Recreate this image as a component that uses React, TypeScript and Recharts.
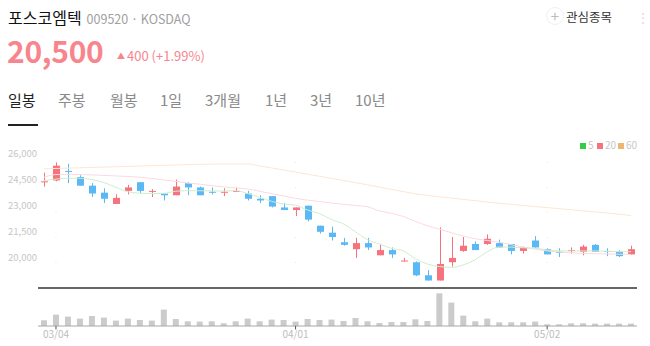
import React from 'react';
import { ComposedChart, BarChart, Bar, Line, XAxis, YAxis, ReferenceLine } from 'recharts';

const dates = [
  '02/29', '03/04', '03/05', '03/06', '03/07', '03/08', '03/11', '03/12', '03/13', '03/14',
  '03/15', '03/18', '03/19', '03/20', '03/21', '03/22', '03/25', '03/26', '03/27', '03/28',
  '03/29', '04/01', '04/02', '04/03', '04/04', '04/05', '04/08', '04/09', '04/11', '04/12',
  '04/15', '04/16', '04/17', '04/18', '04/19', '04/22', '04/23', '04/24', '04/25', '04/26',
  '04/29', '04/30', '05/02', '05/03', '05/07', '05/08', '05/09', '05/10', '05/13', '05/14',
];

const opens = [
  24350, 24450, 25000, 24650, 24150, 23750, 23100, 23850, 24350, 23800,
  23700, 23600, 24300, 24050, 23800, 23750, 23800, 23700, 23400, 23550,
  22900, 22750, 23000, 21850, 21450, 20900, 20500, 20850, 20150, 20450,
  19800, 19750, 19000, 18700, 19750, 20400, 20800, 20800, 20850, 20800,
  20400, 21000, 20500, 20350, 20400, 20350, 20750, 20400, 20350, 20200,
];
const highs = [
  24900, 25500, 25400, 24750, 24300, 24000, 23650, 24200, 24350, 23950,
  23700, 24500, 24350, 24100, 24050, 24000, 24050, 23850, 23600, 23550,
  23150, 22900, 23000, 21850, 21800, 21150, 21150, 21150, 20800, 20600,
  20000, 19800, 19300, 21750, 21200, 21200, 20950, 21350, 21050, 20800,
  20650, 21250, 20550, 20550, 20600, 20750, 20800, 20550, 20450, 20700,
];
const lows = [
  24100, 24400, 24300, 24150, 23500, 23150, 23100, 23650, 23700, 23500,
  23300, 23600, 23600, 23600, 23650, 23550, 23800, 23300, 23150, 22900,
  22750, 22400, 22100, 21400, 21000, 20700, 20000, 20450, 20150, 20000,
  19800, 18950, 18700, 18700, 19500, 20350, 20450, 20750, 20600, 20200,
  20250, 20550, 20200, 20050, 20250, 20150, 20350, 20100, 20050, 20200,
];
const closes = [
  24400, 25300, 24950, 24150, 23700, 23400, 23450, 24050, 23850, 23850,
  23600, 24100, 24050, 23600, 23750, 23800, 23850, 23400, 23300, 22950,
  22750, 22900, 22200, 21500, 21200, 20750, 20850, 20600, 20450, 20200,
  19850, 19000, 18700, 19650, 20000, 20700, 20450, 21100, 20600, 20400,
  20600, 20600, 20200, 20300, 20450, 20650, 20350, 20350, 20100, 20500,
];
const volumes = [
  57000, 114000, 94000, 74000, 100000, 84000, 54000, 74000, 60000, 54000,
  164000, 70000, 47000, 44000, 47000, 27000, 47000, 74000, 47000, 64000,
  60000, 44000, 70000, 60000, 64000, 50000, 80000, 47000, 30000, 40000,
  40000, 67000, 50000, 327000, 234000, 104000, 47000, 74000, 37000, 37000,
  37000, 44000, 17000, 17000, 27000, 27000, 24000, 24000, 24000, 24000,
];

// moving averages as drawn on the chart
const ma5 = [
  24440, 24530, 24580, 24580, 24500, 24330, 24060, 23800, 23720, 23700,
  23710, 23830, 23860, 23860, 23850, 23840, 23860, 23700, 23480, 23250,
  23100, 23030, 22750, 22550, 22200, 21950, 21500, 21050, 20800, 20550,
  20400, 19950, 19650, 19500, 19460, 19600, 19900, 20350, 20630, 20620,
  20580, 20560, 20450, 20400, 20400, 20400, 20400, 20380, 20360, 20360,
];
const ma20 = [
  24630, 24790, 24800, 24790, 24770, 24740, 24710, 24680, 24640, 24560,
  24480, 24400, 24300, 24240, 24150, 24080, 24020, 23960, 23830, 23690,
  23560, 23420, 23320, 23240, 23150, 23080, 23010, 22940, 22700, 22560,
  22380, 22100, 21850, 21650, 21450, 21250, 21100, 21000, 20900, 20760,
  20620, 20500, 20400, 20340, 20290, 20260, 20240, 20230, 20210, 20200,
];
const ma60 = [
  25120, 25140, 25160, 25180, 25200, 25220, 25240, 25260, 25280, 25300,
  25320, 25340, 25360, 25380, 25390, 25400, 25400, 25400, 25290, 25170,
  25050, 24930, 24810, 24690, 24570, 24450, 24330, 24200, 24070, 23940,
  23810, 23680, 23590, 23510, 23440, 23360, 23290, 23210, 23140, 23080,
  23010, 22950, 22890, 22830, 22770, 22700, 22640, 22580, 22510, 22440,
];

const priceTicks = [18500, 20000, 21500, 23000, 24500, 26000];
const dateTicks = ['03/04', '04/01', '05/02'];
const tabs = ['일봉', '주봉', '월봉', '1일', '3개월', '1년', '3년', '10년'];
const tabX = [8, 58, 110, 160, 205, 265, 310, 355];

const UP = '#f6737e';
const DOWN = '#5ab8f5';
const FONT = "'Noto Sans CJK KR', 'Noto Sans', sans-serif";

const rows = dates.map((d, i) => ({
  date: d,
  open: opens[i],
  close: closes[i],
  range: [lows[i], highs[i]],
  ma5: ma5[i],
  ma20: ma20[i],
  ma60: ma60[i],
  volume: volumes[i],
}));

const Candle = (props: any) => {
  let { x, y, width, height, payload } = props;
  if (height < 0) {
    y += height;
    height = -height;
  }
  const [lo, hi] = payload.range;
  const span = hi - lo || 1;
  const toY = (v: number) => y + ((hi - v) / span) * height;
  const up = payload.close >= payload.open;
  const color = up ? UP : DOWN;
  const cx = Math.round(x + width / 2) + 0.5;
  const top = toY(Math.max(payload.open, payload.close));
  const bot = toY(Math.min(payload.open, payload.close));
  return (
    <g>
      <line x1={cx} x2={cx} y1={y} y2={y + height} stroke={color} strokeWidth={1} />
      <rect x={cx - 3.5} y={top} width={7} height={Math.max(bot - top, 1)} fill={color} />
    </g>
  );
};

const PriceTick = (props: any) => (
  <text x={8} y={props.y} dy="0.35em" fontSize={9.5} fill="#c6c6c6" fontFamily={FONT}>
    {props.payload.value.toLocaleString('en-US')}
  </text>
);

// volume axis baseline sits at y=38 inside its svg (2 top margin + 36 plot)
const DateTick = (props: any) => {
  const { x, payload } = props;
  if (!dateTicks.includes(payload.value)) return null;
  return (
    <g>
      <line x1={x} x2={x} y1={38} y2={41.5} stroke="#555" />
      <text x={x} y={50} textAnchor="middle" fontSize={10} fill="#bdbdbd" fontFamily={FONT}>
        {payload.value}
      </text>
    </g>
  );
};

const legend = [
  { label: '5', color: '#33cc44', x: 580 },
  { label: '20', color: '#f6737e', x: 597 },
  { label: '60', color: '#f0b670', x: 618 },
];

export default function App() {
  return (
    <div style={{ position: 'absolute', left: 0, top: 0, width: 650, height: 346, fontFamily: FONT, background: '#fff', overflow: 'hidden' }}>
      <div style={{ position: 'absolute', left: 8, top: 6, fontSize: 16, color: '#111', whiteSpace: 'nowrap', lineHeight: '22px' }}>
        포스코엠텍
        <span style={{ fontSize: 12.5, color: '#a0a0a0', marginLeft: 5 }}>009520 · KOSDAQ</span>
      </div>
      <div style={{ position: 'absolute', left: 546, top: 7, width: 18, height: 18, borderRadius: 9, border: '1px solid #f0f0f0', boxSizing: 'border-box', textAlign: 'center', lineHeight: '15px', fontSize: 15, color: '#bbb' }}>+</div>
      <div style={{ position: 'absolute', left: 566, top: 6, fontSize: 12.5, color: '#333', lineHeight: '22px' }}>관심종목</div>
      <div style={{ position: 'absolute', left: 636, top: 6, fontSize: 14, color: '#ddd', lineHeight: '22px' }}>⋮</div>

      <div style={{ position: 'absolute', left: 7, top: 30, fontSize: 30, fontWeight: 700, color: '#f8858d', lineHeight: '40px', letterSpacing: -0.3 }}>20,500</div>
      <div style={{ position: 'absolute', left: 117, top: 46, fontSize: 13, color: '#f8858d', lineHeight: '20px', whiteSpace: 'nowrap' }}>
        <span style={{ fontSize: 8, verticalAlign: 2, marginRight: 2 }}>▲</span>400 (+1.99%)
      </div>

      {tabs.map((t, i) => (
        <div key={t} style={{ position: 'absolute', left: tabX[i], top: 89, fontSize: 15, color: i === 0 ? '#222' : '#8a8a8a', lineHeight: '22px', whiteSpace: 'nowrap' }}>{t}</div>
      ))}
      <div style={{ position: 'absolute', left: 8, top: 124, width: 30, height: 2, background: '#222' }} />

      {legend.map((l) => (
        <div key={l.label} style={{ position: 'absolute', left: l.x, top: 139, fontSize: 10, color: '#c8c8c8', lineHeight: '12px', whiteSpace: 'nowrap' }}>
          <span style={{ display: 'inline-block', width: 6, height: 6, background: l.color, marginRight: 2, verticalAlign: 0 }} />
          {l.label}
        </div>
      ))}

      <div style={{ position: 'absolute', left: 0, top: 140 }}>
        <ComposedChart width={650} height={150} data={rows} margin={{ top: 0, right: 13, left: 0, bottom: 0 }}>
          <XAxis dataKey="date" height={2} tick={false} tickLine={false} axisLine={{ stroke: '#333', strokeWidth: 1.5 }} />
          <YAxis width={38} domain={[18270, 26776]} ticks={priceTicks} tick={<PriceTick />} tickLine={false} axisLine={false} allowDataOverflow />
          {dateTicks.map((d) => (
            <ReferenceLine key={d} x={d} stroke="#e6e6e6" strokeDasharray="1 24" />
          ))}
          <Line type="monotone" dataKey="ma60" stroke="#fde6d3" strokeWidth={1} dot={false} isAnimationActive={false} />
          <Line type="monotone" dataKey="ma20" stroke="#fcd9de" strokeWidth={1} dot={false} isAnimationActive={false} />
          <Line type="monotone" dataKey="ma5" stroke="#cdeecd" strokeWidth={1} dot={false} isAnimationActive={false} />
          <Bar dataKey="range" shape={<Candle />} isAnimationActive={false} />
        </ComposedChart>
      </div>

      <div style={{ position: 'absolute', left: 0, top: 288 }}>
        <BarChart width={650} height={58} data={rows} margin={{ top: 2, right: 13, left: 38, bottom: 0 }}>
          <XAxis dataKey="date" height={20} interval={0} tick={<DateTick />} tickLine={false} axisLine={{ stroke: '#a8a8a8' }} />
          <YAxis hide domain={[0, 360000]} />
          <Bar dataKey="volume" fill="#cbcbcb" barSize={6} isAnimationActive={false} />
        </BarChart>
      </div>
    </div>
  );
}
